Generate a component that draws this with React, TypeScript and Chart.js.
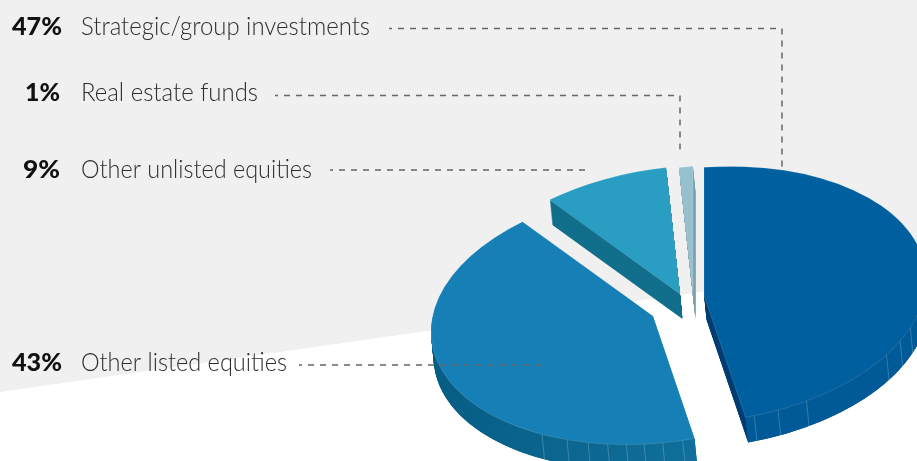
import React, { useEffect, useRef } from "react";
import { Chart, registerables } from "chart.js";

Chart.register(...registerables);

const categories = ["Strategic/group investments", "Other listed equities", "Other unlisted equities", "Real estate funds"];
const shares = [47, 43, 9, 1];
const percentLabels = ["47%", "43%", "9%", "1%"];

const topColors = ["#005f9f", "#167fb6", "#2a9dc3", "#97c0cf"];
const edgeColors = ["#003f74", "#065d84", "#116f8c", "#7d9fae"];
const rimFrom = ["#005a94", "#065d84", "#116f8c", "#7d9fae"];
const rimTo = ["#005a98", "#106f9c", "#116f8c", "#7d9fae"];

// layout constants
const WIDTH = 917;
const HEIGHT = 461;
const CX = 680;
const CY = 295;
const RADIUS = 222;
const SQUASH = 0.575;
const TILT = -0.07;
const DEPTH = 25;
const LEAN = 0.1;
const explode = [[24, 0], [-27, 21], [0, -1], [13, -1]];
const drawOrder = [3, 2, 0, 1];
const facets: number[][] = [
  [76.9, 70.5, 62.5, 34.7, 27.9, 21.7],
  [120, 112.8, 107, 101.8, 96.9, 92.3, 87.5, 82.3],
  [],
  [],
];
const textRows = [
  { i: 0, base: 35, pctLeft: 12, pctRight: 62, textEnd: 370 },
  { i: 3, base: 101, pctLeft: 25, pctRight: 60, textEnd: 258 },
  { i: 2, base: 178, pctLeft: 23, pctRight: 60, textEnd: 312 },
  { i: 1, base: 371, pctLeft: 12, pctRight: 62, textEnd: 287 },
];
const leaders: number[][][] = [
  [[389, 28.5], [782, 28.5], [782, 172]],
  [[275, 95.5], [680, 95.5], [680, 153]],
  [[330, 170], [588, 170]],
  [[299, 365], [546, 365]],
];

function fitText(ctx: CanvasRenderingContext2D, text: string, left: number, right: number, base: number) {
  const w = ctx.measureText(text).width;
  ctx.save();
  ctx.translate(left, base);
  ctx.scale((right - left) / w, 1);
  ctx.fillText(text, 0, 0);
  ctx.restore();
}

const pie3d = {
  id: "pie3d",
  beforeDraw(chart: any) {
    const { ctx } = chart;
    ctx.save();
    ctx.fillStyle = "#ffffff";
    ctx.fillRect(0, 0, WIDTH, HEIGHT);
    ctx.fillStyle = "#f0f0f0";
    ctx.beginPath();
    ctx.moveTo(0, 0);
    ctx.lineTo(WIDTH, 0);
    ctx.lineTo(WIDTH, 261);
    ctx.lineTo(0, 392);
    ctx.closePath();
    ctx.fill();
    ctx.restore();
  },
  beforeDatasetsDraw(chart: any) {
    const { ctx } = chart;
    const arcs = chart.getDatasetMeta(0).data;
    const view = (fn: () => void, dx: number, dy: number) => {
      ctx.save();
      ctx.translate(dx + CX, dy + CY);
      ctx.transform(1, TILT, 0, SQUASH, 0, 0);
      ctx.translate(-CX, -CY);
      fn();
      ctx.restore();
    };
    const wallX = DEPTH * LEAN;
    const wallY = (DEPTH - TILT * wallX) / SQUASH;
    for (const i of drawOrder) {
      const el = arcs[i];
      const [ex, ey] = explode[i];
      const side = Object.create(el);
      side.options = { ...el.options, backgroundColor: edgeColors[i], borderWidth: 0 };
      for (let k = DEPTH; k >= 1; k--) {
        view(() => side.draw(ctx), ex + k * LEAN, ey + k);
      }
      // curved outer wall
      const a0 = Math.max(el.startAngle, 0);
      const a1 = Math.min(el.endAngle, Math.PI);
      const R = el.outerRadius;
      if (a1 > a0) {
        view(() => {
          const grad = ctx.createLinearGradient(el.x - RADIUS, 0, el.x + 45, 0);
          grad.addColorStop(0, rimFrom[i]);
          grad.addColorStop(1, rimTo[i]);
          ctx.fillStyle = grad;
          ctx.beginPath();
          ctx.arc(el.x, el.y, R, a0, a1);
          ctx.arc(el.x + wallX, el.y + wallY, R, a1, a0, true);
          ctx.closePath();
          ctx.fill();
        }, ex, ey);
        ctx.save();
        ctx.strokeStyle = "rgba(255,255,255,0.2)";
        ctx.lineWidth = 1;
        for (const deg of facets[i]) {
          const a = (deg * Math.PI) / 180;
          const fx = el.x + ex + R * Math.cos(a);
          const fy = el.y + ey + TILT * R * Math.cos(a) + SQUASH * R * Math.sin(a);
          ctx.beginPath();
          ctx.moveTo(fx, fy);
          ctx.lineTo(fx + wallX, fy + DEPTH);
          ctx.stroke();
        }
        ctx.restore();
      }
      view(() => el.draw(ctx), ex, ey);
    }
    return false;
  },
  afterDraw(chart: any) {
    const { ctx } = chart;
    ctx.save();
    ctx.strokeStyle = "#666666";
    ctx.lineWidth = 1.5;
    ctx.setLineDash([6, 6]);
    ctx.lineDashOffset = 3;
    for (const path of leaders) {
      ctx.beginPath();
      path.forEach(([x, y], n) => (n ? ctx.lineTo(x, y) : ctx.moveTo(x, y)));
      ctx.stroke();
    }
    ctx.setLineDash([]);
    ctx.textBaseline = "alphabetic";
    ctx.textAlign = "left";
    for (const row of textRows) {
      ctx.fillStyle = "#111111";
      ctx.font = "900 24px Lato";
      fitText(ctx, percentLabels[row.i], row.pctLeft, row.pctRight, row.base);
      ctx.fillStyle = "#2e2e2e";
      ctx.font = "300 25px Lato";
      fitText(ctx, categories[row.i], 81, row.textEnd, row.base);
    }
    ctx.restore();
  },
};

export default function App() {
  const ref = useRef<HTMLCanvasElement>(null);
  useEffect(() => {
    document.body.style.margin = "0";
    document.body.style.overflow = "hidden";
    const chart = new Chart(ref.current!, {
      type: "pie",
      data: {
        labels: categories,
        datasets: [
          {
            data: shares,
            backgroundColor: topColors,
            borderColor: "rgba(255,255,255,0.25)",
            borderWidth: 0.7,
            radius: RADIUS,
          } as any,
        ],
      },
      options: {
        responsive: false,
        animation: false,
        layout: { padding: { left: 2 * CX - WIDTH, top: 2 * CY - HEIGHT } },
        plugins: { legend: { display: false }, tooltip: { enabled: false } },
      },
      plugins: [pie3d as any],
    });
    return () => chart.destroy();
  }, []);
  return <canvas ref={ref} width={WIDTH} height={HEIGHT} style={{ display: "block" }} />;
}
